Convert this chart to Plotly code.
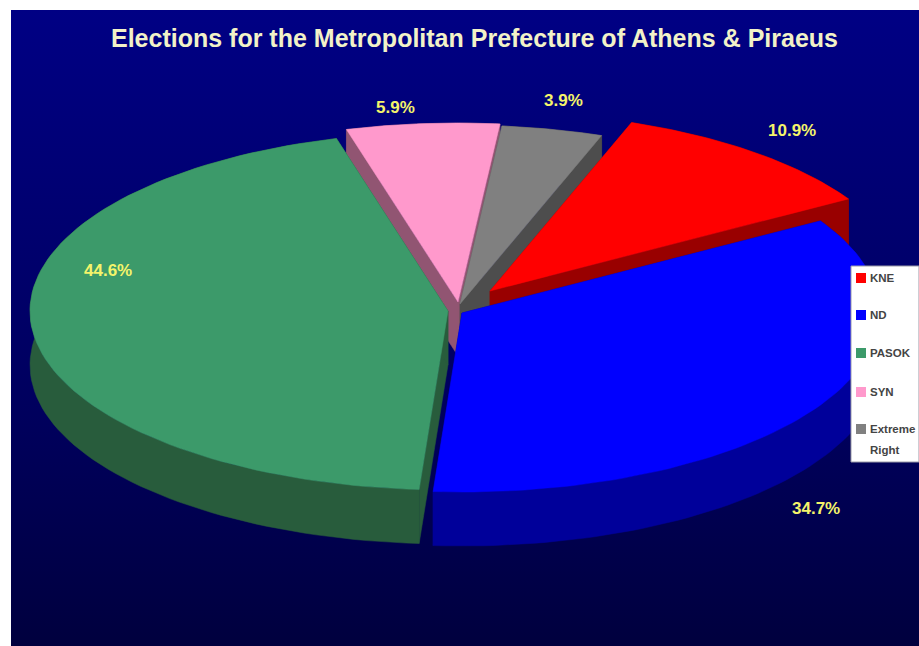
import numpy as np
import plotly.graph_objects as go

# Data
categories = ["KNE", "ND", "PASOK", "SYN", "Extreme<br>Right"]
values = [10.9, 34.7, 44.6, 5.9, 3.9]
title_text = "Elections for the Metropolitan Prefecture of Athens & Piraeus"

# Styles and layout (canvas pixels)
top_colors = ["#FF0000", "#0000FF", "#3C9A6A", "#FF99CC", "#808080"]
side_colors = ["#990000", "#00009A", "#285C3C", "#915572", "#4D4D4D"]
centers = [(490, 291), (462, 313), (448, 311), (458, 302), (460, 304)]
label_pos = [(792, 130), (816, 508), (108, 270), (395, 107), (563, 100)]
legend_y = [278, 315, 353, 392, 429]
draw_order = [3, 4, 0, 1, 2]
start_angle = 19.8
RX, RY, DEPTH = 418, 179, 54

fig = go.Figure()
W, H = 919, 646

# background panel with vertical gradient
fig.add_trace(go.Scatter(
    x=[11, W, W, 11, 11], y=[10, 10, H, H, 10], mode="lines", line=dict(width=0),
    fill="toself", hoverinfo="skip", showlegend=False,
    fillgradient=dict(type="vertical", colorscale=[[0, "#00003E"], [0.35, "#00005C"], [1, "#000084"]])))

cum = np.cumsum([0] + values)
angles = start_angle + cum * 3.6


def poly(x, y, color, name=None):
    fig.add_trace(go.Scatter(x=x, y=y, mode="lines", line=dict(width=0.5, color=color), fill="toself",
                             fillcolor=color, name=name or "", hoverinfo="skip", showlegend=False))


for i in draw_order:
    a0, a1 = np.radians(angles[i]), np.radians(angles[i + 1])
    t = np.linspace(a0, a1, 90)
    cx, cy = centers[i]
    ax = cx + RX * np.sin(t)
    ay = cy - RY * np.cos(t)
    # outer wall
    poly(np.r_[ax, ax[::-1]], np.r_[ay, ay[::-1] + DEPTH], side_colors[i])
    # cut walls
    for ex, ey in ((ax[0], ay[0]), (ax[-1], ay[-1])):
        poly([cx, ex, ex, cx, cx], [cy, ey, ey + DEPTH, cy + DEPTH, cy], side_colors[i])
    # top face
    poly(np.r_[cx, ax, cx], np.r_[cy, ay, cy], top_colors[i], categories[i].replace("<br>", " "))

annotations = []
annotations.append(dict(x=474, y=38, xref="x", yref="y", text=title_text, showarrow=False,
                        font=dict(family="Liberation Sans", size=25, color="#F2F2C8", weight="bold")))
for v, (lx, ly) in zip(values, label_pos):
    annotations.append(dict(x=lx, y=ly, xref="x", yref="y", text=f"{v:.1f}%", showarrow=False,
                            font=dict(family="Liberation Sans", size=17, color="#F4F46A", weight="bold")))

shapes = [dict(type="rect", x0=851, x1=W, y0=266, y1=462, xref="x", yref="y", layer="above",
               fillcolor="white", line=dict(color="#9A9AA8", width=1))]
for c, col, ly in zip(categories, top_colors, legend_y):
    shapes.append(dict(type="rect", x0=856, x1=866, y0=ly - 5, y1=ly + 5, xref="x", yref="y", layer="above",
                       fillcolor=col, line=dict(width=0)))
    for k, part in enumerate(c.split("<br>")):
        annotations.append(dict(x=868, y=ly + 21 * k, xref="x", yref="y", text=part, showarrow=False,
                                xanchor="left", align="left",
                                font=dict(family="Liberation Sans", size=11.5, color="#444444", weight="bold")))

fig.update_layout(
    width=W, height=H, margin=dict(l=0, r=0, t=0, b=0), paper_bgcolor="white", plot_bgcolor="white",
    xaxis=dict(range=[0, W], visible=False, fixedrange=True),
    yaxis=dict(range=[H, 0], visible=False, fixedrange=True),
    showlegend=False, annotations=annotations, shapes=shapes)

fig.write_html("out.html", config={"displayModeBar": False}, post_script="document.body.style.margin='0';")
